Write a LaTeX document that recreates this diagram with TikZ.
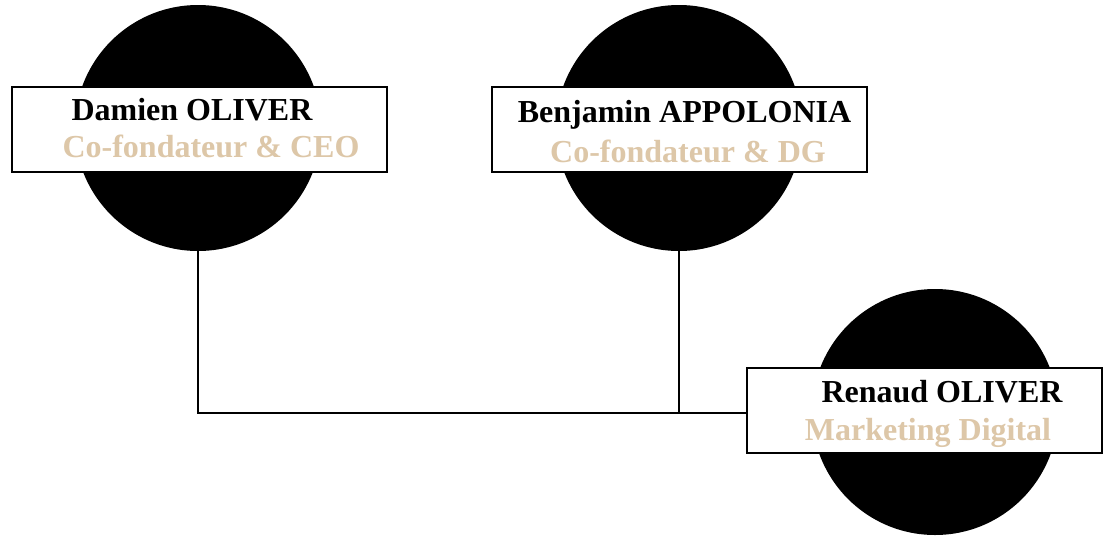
\documentclass[tikz,border=0pt]{standalone}
\usepackage{fontspec}
\setmainfont{Liberation Serif}
\definecolor{beige}{RGB}{221,199,168}

\begin{document}
\begin{tikzpicture}[x=0.5pt,y=-0.5pt,
	person/.style={circle, fill=black, minimum size=123pt, inner sep=0pt},
	card/.style={draw, line width=1pt, fill=white, minimum height=42.5pt, inner sep=0pt},
	nameline/.style={font=\bfseries\fontsize{16}{18}\selectfont, anchor=base, inner sep=0pt},
	roleline/.style={nameline, text=beige}]
	\useasboundingbox (0,0) rectangle (1104,536);

	%circles
	\node[person] (c1) at (198,128) {};
	\node[person] (c2) at (679,128) {};
	\node[person] (c3) at (935,412) {};

	%connections
	\coordinate (join) at (679,413);
	\draw[line width=1pt] (c1.south) |- (join);
	\draw[line width=1pt] (c2.south) -- (join);

	%cards
	\node[card, minimum width=187.5pt] (b1) at (199.5,129.5) {};
	\node[card, minimum width=187.5pt] (b2) at (679.5,129.5) {};
	\node[card, minimum width=177.5pt] (b3) at (924.5,410) {};
	\draw[line width=1pt] (join) -- (b3.west |- join);

	%texts
	\node[nameline] (n1) at (192,120) {Damien OLIVER};
	\node[roleline] (r1) at (211,157) {Co-fondateur \& CEO};
	\node[nameline] (n2) at (684.5,122) {Benjamin APPOLONIA};
	\node[roleline] (r2) at (688,162) {Co-fondateur \& DG};
	\node[nameline] (n3) at (942,402) {Renaud OLIVER};
	\node[roleline] (r3) at (928,440) {Marketing Digital};

\end{tikzpicture}
\end{document}
